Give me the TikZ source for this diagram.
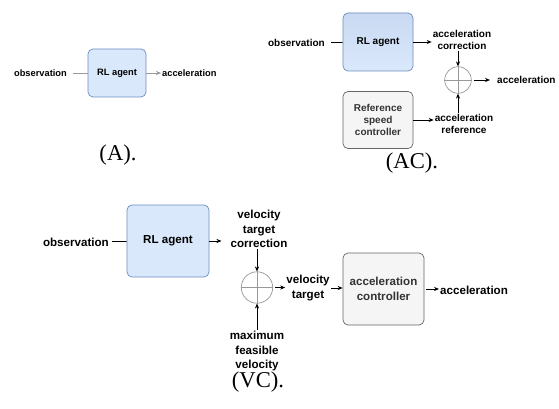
\documentclass[tikz,border=0pt]{standalone}
\usepackage{fontspec}
\setmainfont{Liberation Serif}
\newfontfamily\arialfont{Liberation Sans}
\usetikzlibrary{arrows.meta,calc,positioning}
\definecolor{rlBlue}{HTML}{DAE8FC}
\definecolor{rlBlueDark}{HTML}{C8D9F1}
\definecolor{rlEdge}{HTML}{6C8EBF}
\definecolor{ctGrey}{HTML}{F5F5F5}
\definecolor{ctEdge}{HTML}{666666}
\definecolor{ctInk}{HTML}{333333}
\definecolor{sumEdge}{HTML}{999999}
\definecolor{wireGrey}{HTML}{999999}
\tikzset{
  rl box/.style={draw=rlEdge, fill=rlBlue, rounded corners=5pt, line width=.7pt,
    align=center, text=black},
  ctrl box/.style={draw=ctEdge, fill=ctGrey, rounded corners=5pt, line width=.7pt,
    align=center, text=ctInk},
  sum node/.style={circle, draw=sumEdge, line width=.7pt, inner sep=0pt},
  sum cross/.style={draw=sumEdge, line width=.6pt},
  flow/.style={draw=black, line width=.75pt, -{Stealth[length=5pt,width=4.2pt]}},
  plain wire/.style={draw=black, line width=.75pt},
  lab small/.style={font=\arialfont\bfseries\fontsize{9.3}{11.5}\selectfont, align=center, inner sep=1pt},
  lab mid/.style={font=\arialfont\bfseries\fontsize{10}{12.4}\selectfont, align=center, inner sep=1pt},
  lab big/.style={font=\arialfont\bfseries\fontsize{11.6}{14.6}\selectfont, align=center, inner sep=1pt},
  caption text/.style={font=\fontsize{22.6}{26}\selectfont, inner sep=0pt}
}

\begin{document}
\begin{tikzpicture}[x=1pt,y=-1pt]
  \useasboundingbox[fill=white] (0,0) rectangle (559,409);

  % (A)
  \node[rl box, lab small, minimum width=58, minimum height=48] (agentA) at (117,73) {RL agent};
  \node[lab small, anchor=east, inner xsep=6pt] (obsA) at (73,73) {observation};
  \node[lab small, anchor=west] (accA) at (161,73) {acceleration};
  \draw[draw=wireGrey, line width=.75pt] (obsA) -- (agentA);
  \draw[flow, draw=wireGrey] (agentA) -- (accA);
  \node[caption text] (capA) at (118,155) {(A).};

  % (AC)
  \node[rl box, lab mid, minimum width=70, minimum height=58,
    top color=rlBlueDark, bottom color=rlBlue] (agentC) at (378,42) {RL agent};
  \node[lab mid, anchor=east, inner xsep=6pt] (obsC) at (331,43) {observation};
  \node[lab mid] (corrC) at (462,40) {acceleration\\correction};
  \node[sum node, minimum size=26.6] (sumC) at (458,80) {};
  \draw[sum cross] (sumC.north) -- (sumC.south) (sumC.west) -- (sumC.east);
  \node[lab mid, anchor=west, inner xsep=7pt] (outC) at (490,80) {acceleration};
  \node[ctrl box, lab mid, text=ctInk, minimum width=70, minimum height=57] (refC) at (378,120)
    {Reference\\speed\\controller};
  \node[lab mid] (refaccC) at (464,124) {acceleration\\reference};
  \draw[plain wire] (obsC) -- (agentC);
  \draw[flow] (agentC.east) -- (agentC.east -| corrC.west);
  \draw[flow] (sumC.north |- corrC.south) -- (sumC.north);
  \draw[flow, shorten <=2pt] (sumC.east) -- (outC.west);
  \draw[flow] (refC.east) -- (refC.east -| refaccC.west);
  \draw[flow] (sumC.south |- refaccC.north) -- (sumC.south);
  \node[caption text] (capC) at (412,163) {(AC).};

  % (VC)
  \node[rl box, lab big, minimum width=82, minimum height=72] (agentV) at (168,241) {RL agent};
  \node[lab big, anchor=east, inner xsep=3pt] (obsV) at (112,242) {observation};
  \node[lab big, inner xsep=9pt] (corrV) at (259,229) {velocity\\target\\correction};
  \node[sum node, minimum size=31.4] (sumV) at (257,287.5) {};
  \draw[sum cross] (sumV.north) -- (sumV.south) (sumV.west) -- (sumV.east);
  \node[lab big] (tgtV) at (308,288) {velocity\\target};
  \node[ctrl box, lab big, text=ctInk, minimum width=81, minimum height=72] (ctrlV) at (383.5,289)
    {acceleration\\controller};
  \node[lab big, anchor=west] (accV) at (439,290) {acceleration};
  \node[lab big] (maxV) at (257,351) {maximum\\feasible\\velocity};
  \draw[plain wire] (obsV) -- (agentV);
  \draw[flow] (agentV.east) -- (agentV.east -| corrV.west);
  \draw[flow] (sumV.north |- corrV.south) -- (sumV.north);
  \draw[flow, shorten <=2pt] (sumV.east) -- (tgtV.west |- sumV.east);
  \draw[flow] (tgtV.east) -- (tgtV.east -| ctrlV.west);
  \draw[flow, shorten <=2pt] (ctrlV.east) -- (ctrlV.east -| accV.west);
  \draw[flow] (maxV) -- (sumV);
  \node[caption text] (capV) at (258,382) {(VC).};
\end{tikzpicture}
\end{document}
